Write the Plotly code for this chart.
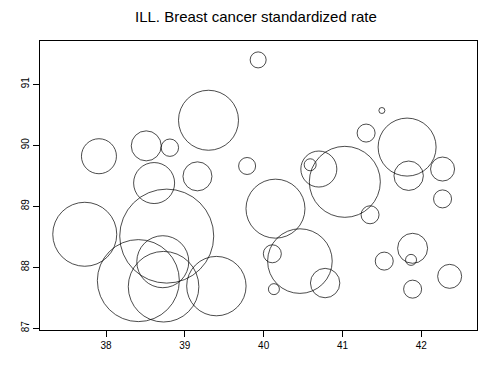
import plotly.graph_objects as go

# centre x, rate y, circle radius (pixel-scale size value)
x_vals = [39.93, 39.30, 37.91, 38.51, 38.81, 38.61, 39.16, 37.73, 38.77, 38.72,
          38.41, 38.73, 39.40, 39.79, 41.50, 41.30, 41.82, 41.84, 42.27, 40.70,
          40.59, 41.03, 40.15, 41.35, 42.27, 40.46, 40.11, 40.13, 40.78, 41.53,
          41.89, 41.87, 41.89, 42.36]
y_vals = [91.40, 90.41, 89.82, 89.99, 89.96, 89.38, 89.49, 88.54, 88.51, 88.09,
          87.78, 87.68, 87.69, 89.66, 90.57, 90.20, 89.97, 89.50, 89.61, 89.61,
          89.68, 89.40, 88.96, 88.86, 89.12, 88.10, 88.22, 87.64, 87.74, 88.10,
          88.31, 88.12, 87.64, 87.85]
radius = [8, 30, 17.5, 15, 8.7, 20.5, 14.5, 32, 47, 26,
          41, 35.3, 29.7, 8.5, 3, 9, 29, 14.7, 12, 18,
          6, 35.5, 29.5, 9, 9, 32.3, 9, 5.5, 14.7, 9,
          15, 5.5, 9, 12]

x_ticks = [38, 39, 40, 41, 42]
y_ticks = [87, 88, 89, 90, 91]

fig = go.Figure(go.Scatter(
    x=x_vals, y=y_vals, mode="markers",
    marker=dict(symbol="circle-open", size=[2 * r for r in radius],
                sizemode="diameter", color="black", line=dict(width=1, color="black")),
    hoverinfo="x+y",
))

axis_common = dict(showline=True, linecolor="black", linewidth=1, mirror=True,
                   ticks="outside", ticklen=6, tickcolor="black", tickwidth=1,
                   showgrid=False, zeroline=False,
                   tickfont=dict(family="Liberation Sans, Arial", size=10, color="black"))

fig.update_layout(
    width=495, height=375,
    margin=dict(l=40, r=18, t=41, b=45),
    paper_bgcolor="white", plot_bgcolor="white",
    showlegend=False,
    title=dict(text="ILL. Breast cancer standardized rate", xref="container",
               x=0.517, xanchor="center", y=0.955, yanchor="middle",
               font=dict(family="Liberation Sans, Arial", size=15, color="black")),
    xaxis=dict(range=[37.162, 42.707], tickvals=x_ticks, **axis_common),
    yaxis=dict(range=[86.97, 91.71], tickvals=y_ticks, tickangle=-90, **axis_common),
)

fig.write_html("out.html", config={"displayModeBar": False},
               post_script="document.body.style.margin='0';")
